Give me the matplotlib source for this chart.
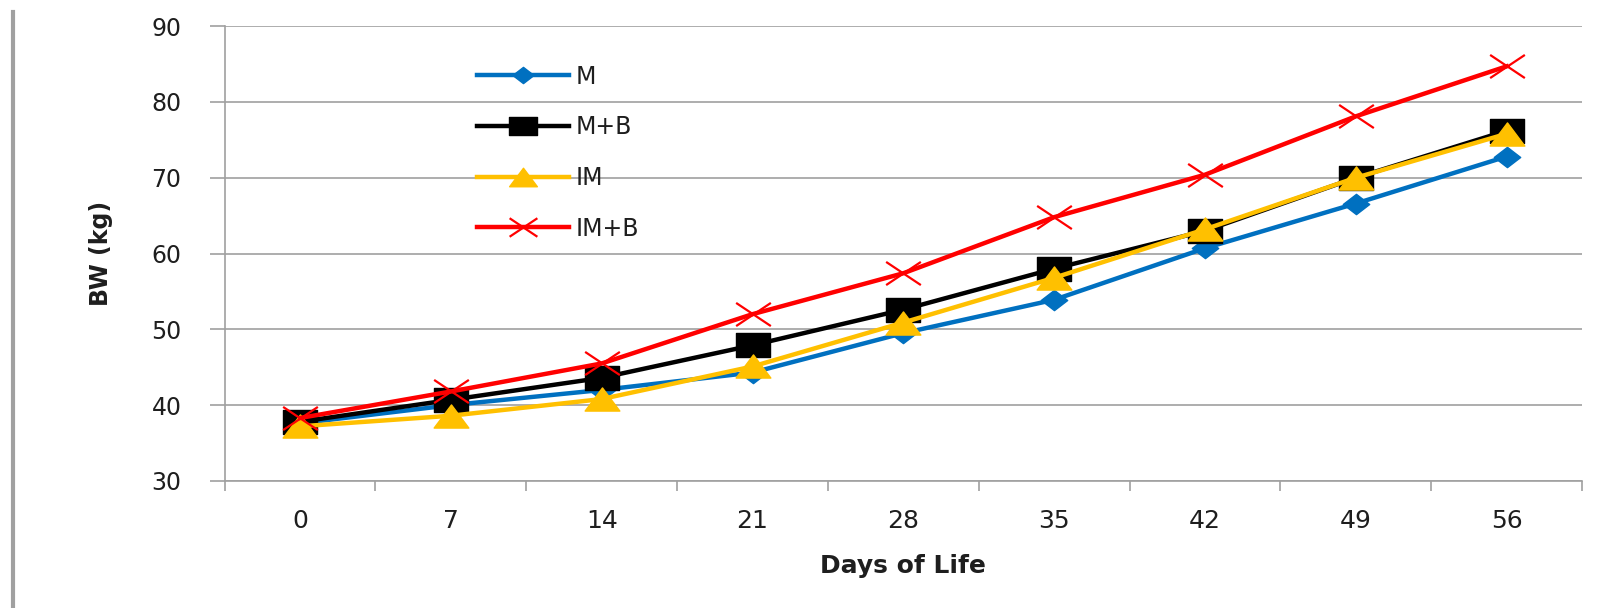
import numpy as np
import matplotlib.pyplot as plt
from matplotlib.lines import Line2D
from matplotlib.path import Path

# Data
days = ['0', '7', '14', '21', '28', '35', '42', '49', '56']
m_bw = [37.6, 40.0, 42.0, 44.3, 49.5, 53.9, 60.7, 66.6, 72.8]
mb_bw = [37.8, 40.7, 43.6, 47.9, 52.6, 58.0, 63.0, 70.0, 76.2]
im_bw = [37.2, 38.6, 40.8, 45.1, 50.9, 56.8, 63.2, 70.0, 75.8]
imb_bw = [38.3, 41.8, 45.5, 52.0, 57.4, 64.8, 70.4, 78.1, 84.7]

grey = '#a0a0a0'
txt = '#1e1e1e'

# the source picture is stretched sideways, so markers are wider than tall
w = 1.5
square = Path([(-w, -1), (w, -1), (w, 1), (-w, 1), (-w, -1)], closed=True)
tri = Path([(0, 1), (-w, -1), (w, -1), (0, 1)], closed=True)
diam = Path([(0, 1), (1.3, 0), (0, -1), (-1.3, 0), (0, 1)], closed=True)
cross = Path([(-w, -1), (w, 1), (-w, 1), (w, -1)],
             [Path.MOVETO, Path.LINETO, Path.MOVETO, Path.LINETO])

fig = plt.figure(figsize=(16.16, 6.08), dpi=100)
ax = fig.add_axes([0.139, 0.209, 0.840, 0.748])

x = np.arange(len(days)) + 0.5
ax.plot(x, m_bw, color='#0070c0', lw=3.2, marker=diam, ms=19, label='M')
ax.plot(x, mb_bw, color='black', lw=3.2, marker=square, ms=25, label='M+B')
ax.plot(x, im_bw, color='#ffc000', lw=3.2, marker=tri, ms=25, label='IM')
ax.plot(x, imb_bw, color='#ff0000', lw=3.2, marker=cross, ms=25, mew=1.6,
        mfc='none', label='IM+B')

ax.set_xlim(0, len(days))
ax.set_ylim(30, 90)
ax.set_yticks(np.arange(30, 91, 10))
ax.set_xticks(np.arange(len(days) + 1))
ax.set_xticklabels([])
ax.set_xticks(x, minor=True)
ax.set_xticklabels(days, minor=True, fontsize=18, color=txt)
ax.tick_params(axis='x', which='minor', length=0, pad=20)
ax.tick_params(axis='x', which='major', length=7, color=grey, width=1.2)
ax.tick_params(axis='y', length=11, color=grey, width=1.2, labelsize=17,
               labelcolor=txt, pad=20)

ax.grid(axis='y', color=grey, lw=1.2)
ax.set_axisbelow(True)
for s in ['top', 'right']:
    ax.spines[s].set_visible(False)
for s in ['left', 'bottom']:
    ax.spines[s].set_color(grey)
    ax.spines[s].set_linewidth(1.2)

fig.text(903 / 1616, 1 - 573 / 608, 'Days of Life', ha='center', va='baseline',
         fontsize=18, fontweight='bold', color=txt)
fig.text(101 / 1616, 1 - 253 / 608, 'BW (kg)', rotation=90, ha='center', va='center',
         fontweight='bold', fontsize=17, color=txt)

ax.legend(loc='upper left', bbox_to_anchor=(0.17, 0.962), frameon=False,
          fontsize=17, handlelength=3.9, handletextpad=0.3, labelspacing=1.13,
          markerscale=0.8, labelcolor=txt)

fig.add_artist(Line2D([13 / 1616, 13 / 1616], [0, 1 - 12 / 608], color=grey, lw=3))

fig.savefig('out.png', dpi=100)
